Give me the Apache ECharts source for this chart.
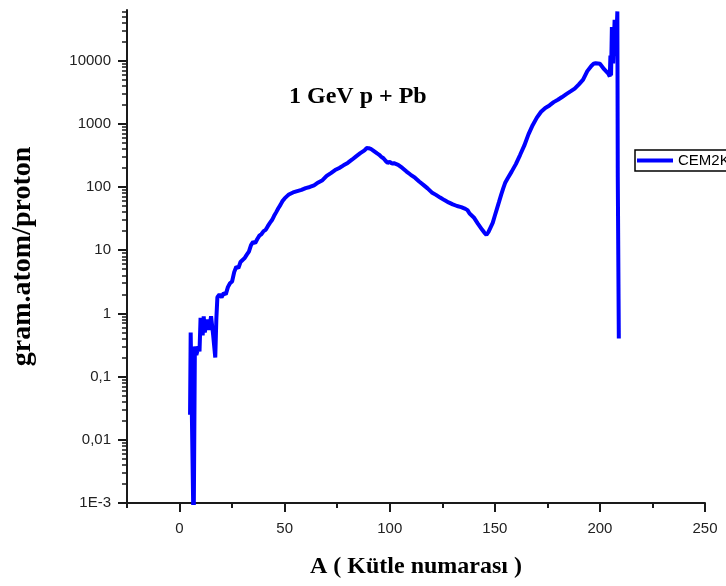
<!DOCTYPE html>
<html><head><meta charset="utf-8">
<script src="https://cdn.jsdelivr.net/npm/echarts@6/dist/echarts.min.js"></script>
<style>html,body{margin:0;padding:0;background:#fff}#c{width:726px;height:586px}</style>
</head><body><div id="c"></div>
<script>
// Mass number A and yield (gram.atom/proton)
const massNumbers = [5, 5.3, 6.7, 7.3, 8, 9, 9.5, 10, 11, 11.5, 12, 13, 14, 15, 16, 17, 17.5, 18, 19, 20,
  21, 22, 23, 24, 25, 26, 27, 28, 29, 30, 31, 32, 33, 34, 35, 36, 37, 38, 39, 40,
  41, 42, 43, 44, 45, 46, 47, 48, 49, 50, 51, 52, 54, 56, 58, 60, 62, 64, 66, 68,
  70, 72, 74, 76, 78, 80, 82, 84, 86, 88, 89, 90, 91, 92, 94, 95, 96, 97, 98, 99,
  100, 101, 102, 104, 106, 108, 110, 112, 114, 116, 118, 120, 122, 124, 126, 128, 130, 132, 134, 136,
  137, 138, 140, 142, 144, 145, 146, 147, 148, 149, 150, 151, 152, 153, 154, 155, 156, 158, 160, 162,
  164, 166, 168, 170, 172, 174, 176, 178, 180, 182, 184, 186, 188, 190, 192, 194, 196, 197, 198, 200,
  202, 204, 204.7, 205, 205.3, 205.7, 206.3, 207, 207.6, 208.3, 208.5, 209, 209];
const yields = [0.025, 0.5, 0.0003, 0.3, 0.22, 0.3, 0.25, 0.85, 0.45, 0.9, 0.5, 0.8, 0.55, 0.9, 0.45, 0.2, 0.8, 1.8, 2.0, 1.8,
  2.1, 2.0, 2.6, 3.0, 3.2, 4.5, 5.5, 5.2, 6.5, 7.0, 7.5, 8.5, 9.5, 12, 13.5, 13, 15, 17, 18, 20,
  21, 24, 27, 30, 35, 40, 46, 52, 60, 66, 71, 76, 82, 86, 90, 96, 100, 106, 118, 128,
  150, 166, 185, 200, 220, 240, 270, 305, 343, 380, 412, 410, 400, 380, 340, 323, 300, 285, 260, 240,
  250, 235, 238, 224, 200, 175, 156, 140, 122, 108, 95, 82, 75, 68, 62, 57, 53, 50, 48, 45,
  43, 38, 33, 26, 21, 19, 17.5, 19.5, 23, 27, 35, 45, 58, 75, 95, 118, 135, 175, 230, 320,
  450, 680, 950, 1250, 1550, 1780, 1950, 2200, 2400, 2650, 2950, 3250, 3600, 4200, 5000, 6800, 8300, 8900, 9100, 8900,
  7300, 6200, 5600, 12000, 5800, 34000, 9000, 44000, 12000, 60000, 150, 140, 0.4];

const xTicks = [0, 50, 100, 150, 200, 250];
const xMinorTicks = [-25, 25, 75, 125, 175, 225];
const yTickValues = [0.001, 0.01, 0.1, 1, 10, 100, 1000, 10000];
const yTickLabels = ['1E-3', '0,01', '0,1', '1', '10', '100', '1000', '10000'];
const yMinorMultipliers = [2, 3, 4, 5, 6, 7, 8, 9];

const yMax = 4.8; // log10 of axis top
const yMajorLog = yTickValues.map(v => Math.log10(v));
const yMinorLog = [];
yTickValues.forEach(v => yMinorMultipliers.forEach(m => {
  const l = Math.log10(v * m);
  if (l <= yMax) yMinorLog.push(l);
}));

const seriesData = massNumbers.map((a, i) => [a, Math.log10(yields[i])]);

const axisColor = '#1a1a1a';
const chart = echarts.init(document.getElementById('c'), null, {renderer: 'canvas'});
chart.setOption({
  animation: false,
  backgroundColor: '#fff',
  grid: {left: 127, right: 21, top: 10, bottom: 83},
  title: {
    text: '1 GeV p + Pb', left: 284, top: 80,
    textStyle: {fontFamily: 'Liberation Serif', fontWeight: 'bold', fontSize: 24, color: '#000'}
  },
  legend: {
    left: 635, top: 150, padding: [3, 2, 3, 2],
    borderColor: '#000', borderWidth: 1.5,
    itemWidth: 36, itemHeight: 4, icon: 'rect',
    textStyle: {fontFamily: 'Liberation Sans', fontSize: 15, color: '#000'},
    data: ['CEM2K']
  },
  xAxis: [{
    type: 'value', min: -25, max: 250, position: 'bottom',
    axisLine: {onZero: false, lineStyle: {color: axisColor, width: 2}},
    axisTick: {customValues: xTicks, length: 9, lineStyle: {color: axisColor, width: 2}},
    axisLabel: {customValues: xTicks, fontFamily: 'Liberation Sans', fontSize: 15, color: '#222', margin: 18},
    splitLine: {show: false},
    name: 'A ( Kütle numarası )', nameLocation: 'middle', nameGap: 52,
    nameTextStyle: {fontFamily: 'Liberation Serif', fontWeight: 'bold', fontSize: 24, color: '#000'}
  }, {
    type: 'value', min: -25, max: 250, position: 'bottom',
    axisLine: {show: false, onZero: false},
    axisTick: {customValues: xMinorTicks, length: 5, lineStyle: {color: axisColor, width: 2}},
    axisLabel: {show: false}, splitLine: {show: false}
  }],
  yAxis: [{
    type: 'value', min: -3, max: yMax, position: 'left',
    axisLine: {show: true, onZero: false, lineStyle: {color: axisColor, width: 2}},
    axisTick: {show: true, customValues: yMajorLog, length: 9, lineStyle: {color: axisColor, width: 2}},
    axisLabel: {
      customValues: yMajorLog, fontFamily: 'Liberation Sans', fontSize: 15, color: '#222', margin: 16,
      formatter: v => {
        const i = yMajorLog.findIndex(l => Math.abs(l - v) < 1e-6);
        return i >= 0 ? yTickLabels[i] : '';
      }
    },
    splitLine: {show: false},
    name: 'gram.atom/proton', nameLocation: 'middle', nameGap: 90,
    nameTextStyle: {fontFamily: 'Liberation Serif', fontWeight: 'bold', fontSize: 28, color: '#000'}
  }, {
    type: 'value', min: -3, max: yMax, position: 'left', offset: 0,
    axisLine: {show: false, onZero: false},
    axisTick: {show: true, customValues: yMinorLog, length: 5, lineStyle: {color: axisColor, width: 1.5}},
    axisLabel: {show: false}, splitLine: {show: false}
  }],
  series: [{
    name: 'CEM2K', type: 'line', xAxisIndex: 0, yAxisIndex: 0,
    data: seriesData, showSymbol: false, symbol: 'none', clip: true,
    lineStyle: {color: '#0000ff', width: 4},
    itemStyle: {color: '#0000ff'}
  }]
});
</script>
</body></html>
